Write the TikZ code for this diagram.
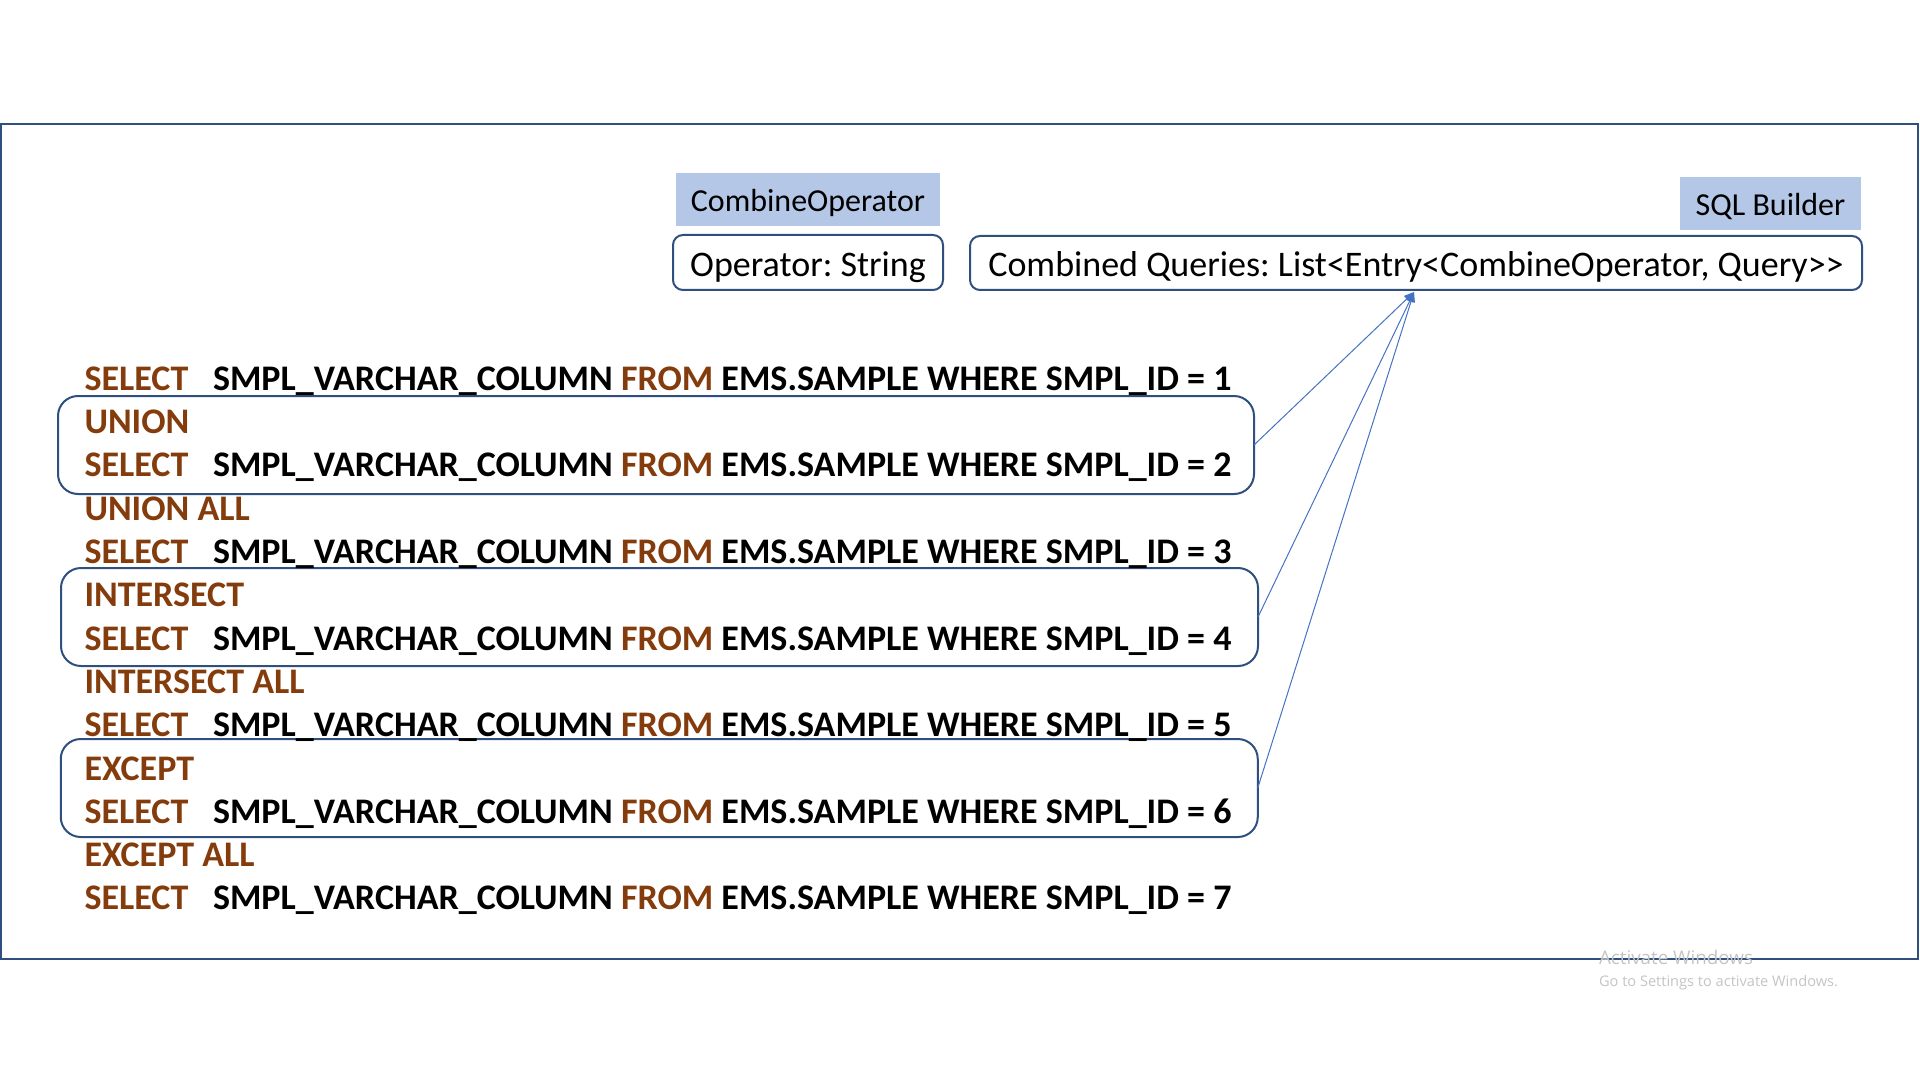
\documentclass[tikz,border=0pt]{standalone}
\usepackage{fontspec}
\setmainfont{Carlito}
\newfontfamily\wmfont{Open Sans}
\usetikzlibrary{arrows.meta}
\definecolor{kw}{HTML}{843C0C}
\definecolor{hdr}{HTML}{B4C7E7}
\definecolor{edge}{HTML}{2F4F7F}
\definecolor{link}{HTML}{4472C4}
\definecolor{wm}{HTML}{C4C4C4}
\frenchspacing
\tikzset{
  every node/.style={inner sep=0pt, outer sep=0pt},
  sql/.style={anchor=base west, font=\fontsize{18}{21.6}\selectfont\bfseries},
  kwd/.style={sql, text=kw},
  hdrbox/.style={fill=hdr, font=\fontsize{16}{19.2}\selectfont, text height=12.3pt, text depth=0pt},
  fieldbox/.style={draw=edge, line width=1pt, rounded corners=5pt, font=\fontsize{18}{21.6}\selectfont, text height=14pt, text depth=0pt},
  qbox/.style={draw=edge, line width=1pt, rounded corners=10pt},
  linkline/.style={draw=link, line width=0.5pt, -{Triangle[length=5pt,width=4pt]}},
  frame/.style={draw=edge, line width=1pt},
  wmtext/.style={anchor=base west, text=wm}
}
\begin{document}
\begin{tikzpicture}[x=0.5pt,y=-0.5pt]
\useasboundingbox (0,0) rectangle (1920,1080);
% outer frame
\draw[frame] (1,124) rectangle (1918,959);
% header boxes
\node[hdrbox, minimum width=132pt, minimum height=26.5pt] (combop) at (808,199.5) {CombineOperator};
\node[fieldbox, minimum width=135pt, minimum height=27.5pt] (opfield) at (808,262.5) {Operator: String};
\node[hdrbox, minimum width=90.5pt, minimum height=26.5pt] (sqlb) at (1770.5,203.5) {SQL Builder};
\node[fieldbox, minimum width=446pt, minimum height=27pt] (comb) at (1416,263) {Combined Queries: List<Entry<CombineOperator, Query>{}>};
\coordinate (tip) at ([xshift=-1pt,yshift=-1pt]comb.south);
% grouping boxes
\node[qbox, minimum width=598pt, minimum height=49pt] (g1) at (656,445) {};
\node[qbox, minimum width=598.5pt, minimum height=49pt] (g2) at (659.5,617) {};
\node[qbox, minimum width=598.5pt, minimum height=49pt] (g3) at (659.25,788) {};
% SQL lines
\foreach \i in {1,...,7} {
  \pgfmathsetmacro\yy{390.3+(\i-1)*86.6}
  \node[kwd] (s\i) at (84.5,\yy) {SELECT};
  \node[sql] (r\i) at (213,\yy) {SMPL\_VARCHAR\_COLUMN \textcolor{kw}{FROM} EMS.SAMPLE WHERE SMPL\_ID = \i};
}
\foreach \t [count=\j] in {UNION,UNION ALL,INTERSECT,INTERSECT ALL,EXCEPT,EXCEPT ALL} {
  \pgfmathsetmacro\yy{390.3+43.3+(\j-1)*86.6}
  \node[kwd] (op\j) at (84.5,\yy) {\t};
}
% connectors
\draw[linkline] (g1.east) -- (tip);
\draw[linkline] (g2.east) -- (tip);
\draw[linkline] (g3.east) -- (tip);
% watermark
\node[wmtext, font=\wmfont\fontsize{9.4}{11}\selectfont] (wm1) at (1599,964) {Activate Windows};
\node[wmtext, font=\wmfont\fontsize{7.3}{9}\selectfont] (wm2) at (1599,986) {Go to Settings to activate Windows.};
\end{tikzpicture}
\end{document}
